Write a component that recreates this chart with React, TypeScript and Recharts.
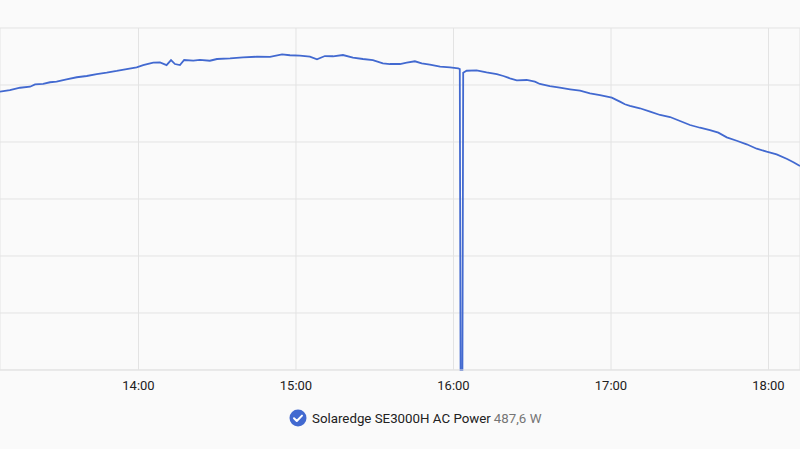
import React from "react";
import { LineChart, Line, XAxis, YAxis, CartesianGrid } from "recharts";

// minutes since midnight
const times = [
  787.25, 791, 794.9, 798.7, 800.6, 803.7, 806.3, 808.8, 812.6, 816.5, 820.3,
  824.1, 827.9, 831.7, 835.5, 839.3, 841.8, 845.6, 848.2, 850.7, 852.4, 853.9,
  855.8, 857.4, 860.9, 863.4, 867.2, 869.9, 874.9, 879.8, 885.1, 890.1, 894.7,
  897.7, 901.5, 905.3, 908, 911, 914.1, 917.9, 921.7, 925.5, 929.3, 933.1,
  935.8, 939.6, 942.2, 945.3, 947.9, 951, 954.9, 958.7, 961.8, 962.4, 962.7,
  963.4, 963.7, 965, 968.8, 972.6, 976.5, 979, 981.5, 984.1, 987.9, 991, 992.9,
  996.7, 1000.5, 1004.4, 1008.2, 1012, 1015.8, 1020.3, 1023.4, 1025.3, 1027.2,
  1031, 1034.9, 1038.7, 1042.5, 1046.3, 1050.1, 1053.9, 1057.7, 1060.9, 1064.1,
  1067.9, 1071.7, 1075.5, 1079.3, 1083.1, 1087.1, 1089.5, 1092,
];
// AC power in W
const power = [
  2441, 2456, 2476, 2485, 2506, 2509, 2524, 2529, 2550, 2568, 2579, 2596, 2608,
  2623, 2640, 2655, 2675, 2696, 2699, 2675, 2719, 2684, 2675, 2719, 2713, 2720,
  2713, 2728, 2734, 2743, 2748, 2746, 2769, 2761, 2757, 2748, 2725, 2754, 2752,
  2763, 2740, 2728, 2719, 2690, 2684, 2684, 2696, 2708, 2690, 2678, 2661, 2655,
  2646, 2640, 0, 0, 2608, 2625, 2629, 2611, 2596, 2579, 2559, 2541, 2544, 2529,
  2509, 2491, 2476, 2462, 2450, 2427, 2412, 2389, 2354, 2331, 2316, 2296, 2266,
  2237, 2219, 2184, 2149, 2125, 2105, 2082, 2041, 2011, 1980, 1941, 1915, 1892,
  1851, 1822, 1789,
];
const timeTicks = [840, 900, 960, 1020, 1080];
const powerTicks = [0, 500, 1000, 1500, 2000, 2500, 3000];
const seriesName = "Solaredge SE3000H AC Power";
const currentValue = "487,6 W";

const data = times.map((t, i) => ({ t, w: power[i] }));

const BLUE = "#4269d0";
const GRID = "#e3e3e3";

const fmtTime = (m: number) => {
  const h = Math.floor(m / 60);
  const mm = Math.round(m % 60);
  return `${h}:${mm.toString().padStart(2, "0")}`;
};

export default function App() {
  return (
    <div
      style={{
        position: "absolute",
        top: 0,
        left: 0,
        width: 800,
        height: 449,
        background: "#fafafa",
        fontFamily: "Roboto, sans-serif",
        overflow: "hidden",
      }}
    >
      <LineChart
        width={800}
        height={400}
        data={data}
        margin={{ top: 28, right: 0, bottom: 0, left: 0 }}
      >
        <CartesianGrid stroke={GRID} strokeWidth={1} />
        <XAxis
          dataKey="t"
          type="number"
          domain={[787.25, 1092]}
          ticks={timeTicks}
          tickFormatter={fmtTime}
          height={30}
          axisLine={{ stroke: GRID }}
          tickLine={false}
          tickMargin={5}
          tick={{ fill: "#212121", fontSize: 13 }}
          allowDataOverflow
        />
        <YAxis type="number" domain={[0, 3000]} ticks={powerTicks} hide />
        <Line
          type="linear"
          dataKey="w"
          stroke={BLUE}
          strokeWidth={1.8}
          dot={false}
          isAnimationActive={false}
        />
      </LineChart>
      <div
        style={{
          position: "absolute",
          top: 409,
          left: 289,
          display: "flex",
          alignItems: "center",
          fontSize: 13.3,
          whiteSpace: "nowrap",
        }}
      >
        <svg width={18} height={18} style={{ marginRight: 5 }}>
          <circle cx={9} cy={9} r={8.5} fill={BLUE} />
          <path
            d="M5 9.3 L7.8 12 L13 6.6"
            stroke="#fff"
            strokeWidth={2}
            fill="none"
            strokeLinecap="round"
            strokeLinejoin="round"
          />
        </svg>
        <span style={{ color: "#212121" }}>{seriesName}</span>
        <span style={{ color: "#757575", marginLeft: 3 }}>{currentValue}</span>
      </div>
    </div>
  );
}
